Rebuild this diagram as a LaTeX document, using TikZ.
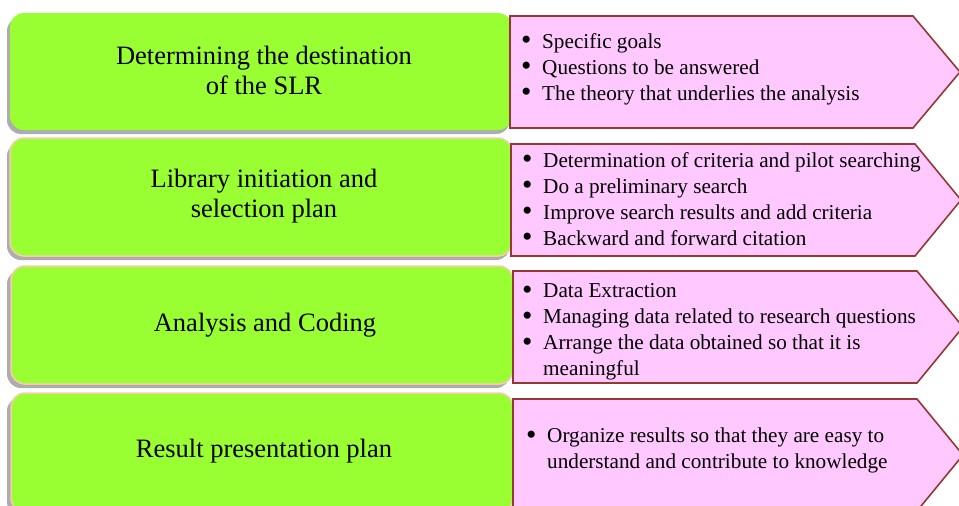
\documentclass[tikz,border=0pt]{standalone}
\usepackage{fontspec}
\setmainfont{Liberation Serif}
\definecolor{stepgreen}{RGB}{153,255,51}
\definecolor{steprim}{RGB}{248,203,173}
\definecolor{notepink}{RGB}{255,201,255}
\definecolor{notered}{RGB}{149,55,53}
% one bullet line, and a wrapped line under it
\newcommand{\bul}[1]{\makebox[22pt][l]{\hspace{1pt}\raisebox{-1.8pt}{\scalebox{1.4}{\textbullet}}}#1\\}
\newcommand{\cont}[1]{\hspace*{22pt}#1\\}
\begin{document}
\begin{tikzpicture}[x=1pt,y=-1pt,
	stepbox/.style={fill=stepgreen,draw=steprim,line width=1.5pt,rounded corners=14pt},
	shadowbox/.style={fill=black!32,rounded corners=14pt},
	note/.style={fill=notepink,draw=notered,line width=1.6pt,line join=miter},
	title/.style={align=center,font=\fontsize{26.5}{30}\selectfont},
	items/.style={anchor=north west,align=left,inner sep=0pt,font=\fontsize{21.2}{26}\selectfont}]
	\useasboundingbox (0,0) rectangle (959,506);
	% green steps with their grey shadows
	\foreach \t/\b in {13/130,138/256,266/384,393/512}{
		\fill[shadowbox] (7,\t+4) rectangle (510,\b+4);
	}
	\fill[stepbox,draw=none] (10,13) rectangle (512,130);
	\draw[stepbox] (10,138) rectangle (512,256);
	\draw[stepbox] (11,266) rectangle (513,384);
	\draw[stepbox] (11,393) rectangle (513,512);
	% pink arrows
	\draw[note] (510,16)--(913,16)--(960,72)--(913,128)--(510,128)--cycle;
	\draw[note] (511,144)--(915,144)--(961,200)--(915,256)--(511,256)--cycle;
	\draw[note] (513,271)--(917,271)--(963,327)--(917,383)--(513,383)--cycle;
	\draw[note] (513,399)--(917,399)--(963,455)--(917,511)--(513,511)--cycle;
	% step titles
	\node[title] (dest) at (264,70) {Determining the destination\\of the SLR};
	\node[title] (lib) at (264,196) {Library initiation and\\selection plan};
	\node[title] (anal) at (265,325) {Analysis and Coding};
	\node[title] (res) at (264,451) {Result presentation plan};
	% bullet lists
	\node[items] (destinfo) at (520,33) {\bul{Specific goals}\bul{Questions to be answered}\bul{The theory that underlies the analysis}};
	\node[items] (libinfo) at (521,152) {\bul{Determination of criteria and pilot searching}\bul{Do a preliminary search}\bul{Improve search results and add criteria}\bul{Backward and forward citation}};
	\node[items] (analinfo) at (521,283) {\bul{Data Extraction}\bul{Managing data related to research questions}\bul{Arrange the data obtained so that it is}\cont{meaningful}};
	\node[items] (resinfo) at (525,428) {\bul{Organize results so that they are easy to}\cont{understand and contribute to knowledge}};
\end{tikzpicture}
\end{document}
